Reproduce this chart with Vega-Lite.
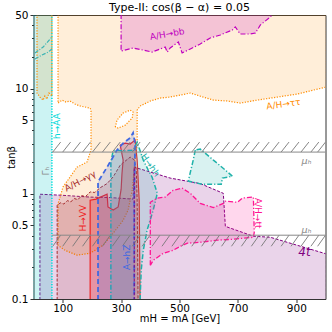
{
"$schema": "https://vega.github.io/schema/vega-lite/v6.json",
"width": 292, "height": 284,
"autosize": {"type": "none"},
"padding": {"left": 33.5, "top": 15, "right": 6.5, "bottom": 33},
"background": "white",
"config": {"view": {"stroke": "#333", "strokeWidth": 1}, "font": "DejaVu Sans",
  "axis": {"labelFont": "DejaVu Sans", "titleFont": "DejaVu Sans", "labelFontSize": 10.5, "titleFontSize": 10, "titleFontWeight": "normal", "labelColor": "#000", "titleColor": "#000", "tickColor": "#333", "domain": false, "grid": false}},
"datasets": {
 "p4t": [{"x":22,"y":0.098},{"x":22,"y":0.99},{"x":91,"y":0.97},{"x":194,"y":0.93},{"x":262,"y":0.92},{"x":341,"y":0.89},{"x":345,"y":1.79},{"x":468,"y":1.41},{"x":571,"y":1.25},{"x":650,"y":1.01},{"x":657,"y":0.49},{"x":753,"y":0.395},{"x":811,"y":0.386},{"x":1003,"y":0.268},{"x":1003,"y":0.098},{"x":22,"y":0.098}],
 "cyan": [{"x":-3,"y":0.098},{"x":-3,"y":51},{"x":63,"y":51},{"x":63,"y":0.098},{"x":-3,"y":0.098}],
 "oranA": [{"x":84,"y":51},{"x":84,"y":7.28},{"x":98,"y":7.77},{"x":111,"y":7.44},{"x":125,"y":7.61},{"x":142,"y":7.12},{"x":160,"y":6.82},{"x":194,"y":6.52},{"x":197,"y":6.24},{"x":197,"y":2.6},{"x":183,"y":2.0},{"x":149,"y":1.79},{"x":125,"y":1.44},{"x":101,"y":1.16},{"x":91,"y":0.93},{"x":84,"y":0.81},{"x":84,"y":0.324},{"x":108,"y":0.29},{"x":149,"y":0.261},{"x":194,"y":0.272},{"x":238,"y":0.324},{"x":273,"y":0.422},{"x":307,"y":0.56},{"x":324,"y":0.7},{"x":338,"y":1.08},{"x":348,"y":2.09},{"x":355,"y":2.9},{"x":355,"y":6.24},{"x":365,"y":6.82},{"x":400,"y":7.61},{"x":434,"y":8.12},{"x":468,"y":8.3},{"x":502,"y":8.67},{"x":537,"y":9.06},{"x":581,"y":8.3},{"x":616,"y":7.77},{"x":664,"y":7.61},{"x":708,"y":7.28},{"x":767,"y":7.77},{"x":835,"y":8.3},{"x":904,"y":8.87},{"x":959,"y":9.67},{"x":1003,"y":10.35},{"x":1003,"y":51},{"x":84,"y":51}],
 "oranB": [{"x":12,"y":51},{"x":12,"y":9.06},{"x":22,"y":8.3},{"x":33,"y":7.77},{"x":39,"y":8.49},{"x":46,"y":7.94},{"x":53,"y":9.06},{"x":63,"y":8.49},{"x":63,"y":51},{"x":12,"y":51}],
 "ellipse": [{"x":280,"y":4.3},{"x":286,"y":5.01},{"x":307,"y":5.85},{"x":331,"y":6.24},{"x":341,"y":5.98},{"x":338,"y":5.24},{"x":314,"y":4.49},{"x":290,"y":4.21},{"x":280,"y":4.3}],
 "bb": [{"x":300,"y":51},{"x":300,"y":22.7},{"x":341,"y":24.3},{"x":376,"y":23.2},{"x":406,"y":22.2},{"x":434,"y":23.8},{"x":451,"y":24.8},{"x":458,"y":22.2},{"x":468,"y":24.3},{"x":496,"y":27.7},{"x":509,"y":21.8},{"x":537,"y":23.8},{"x":571,"y":26.5},{"x":605,"y":30.2},{"x":640,"y":32.3},{"x":681,"y":36.0},{"x":691,"y":38.5},{"x":708,"y":33.0},{"x":743,"y":33.0},{"x":760,"y":33.7},{"x":777,"y":40.2},{"x":811,"y":47.9},{"x":820,"y":51},{"x":300,"y":51}],
 "gg": [{"x":81,"y":0.098},{"x":81,"y":0.78},{"x":92,"y":0.82},{"x":104,"y":0.8},{"x":116,"y":0.86},{"x":128,"y":0.84},{"x":140,"y":0.9},{"x":152,"y":0.88},{"x":165,"y":0.96},{"x":178,"y":0.94},{"x":194,"y":1.04},{"x":210,"y":1.03},{"x":228,"y":1.14},{"x":252,"y":1.25},{"x":273,"y":1.45},{"x":297,"y":1.87},{"x":331,"y":2.23},{"x":345,"y":2.1},{"x":352,"y":1.68},{"x":355,"y":0.87},{"x":358,"y":0.098},{"x":81,"y":0.098}],
 "vv": [{"x":194,"y":0.098},{"x":194,"y":0.87},{"x":214,"y":0.89},{"x":252,"y":0.99},{"x":255,"y":0.75},{"x":273,"y":0.7},{"x":290,"y":0.75},{"x":300,"y":1.1},{"x":303,"y":1.55},{"x":307,"y":2.09},{"x":297,"y":2.9},{"x":314,"y":3.03},{"x":331,"y":2.97},{"x":348,"y":3.24},{"x":355,"y":2.09},{"x":362,"y":0.87},{"x":365,"y":0.098},{"x":194,"y":0.098}],
 "hh": [{"x":265,"y":0.098},{"x":265,"y":2.0},{"x":272,"y":2.5},{"x":285,"y":2.6},{"x":307,"y":2.55},{"x":341,"y":2.6},{"x":355,"y":3.1},{"x":376,"y":2.09},{"x":393,"y":1.68},{"x":406,"y":1.44},{"x":424,"y":1.01},{"x":410,"y":0.7},{"x":389,"y":0.45},{"x":376,"y":0.29},{"x":369,"y":0.19},{"x":365,"y":0.098},{"x":265,"y":0.098}],
 "blob": [{"x":554,"y":2.6},{"x":547,"y":2.09},{"x":530,"y":1.32},{"x":578,"y":1.23},{"x":643,"y":1.23},{"x":647,"y":1.41},{"x":681,"y":1.47},{"x":657,"y":1.68},{"x":616,"y":2.09},{"x":571,"y":2.66},{"x":554,"y":2.6}],
 "hz": [{"x":221,"y":0.098},{"x":221,"y":1.3},{"x":252,"y":1.79},{"x":286,"y":2.6},{"x":307,"y":3.03},{"x":331,"y":3.4},{"x":341,"y":3.8},{"x":348,"y":3.0},{"x":345,"y":0.87},{"x":345,"y":0.098},{"x":221,"y":0.098}],
 "tt": [{"x":400,"y":0.209},{"x":400,"y":0.83},{"x":424,"y":0.91},{"x":451,"y":0.93},{"x":478,"y":1.08},{"x":509,"y":1.13},{"x":537,"y":1.01},{"x":571,"y":0.81},{"x":616,"y":0.74},{"x":650,"y":0.81},{"x":657,"y":0.85},{"x":698,"y":0.83},{"x":715,"y":0.91},{"x":753,"y":0.93},{"x":756,"y":0.43},{"x":753,"y":0.386},{"x":684,"y":0.37},{"x":629,"y":0.362},{"x":571,"y":0.346},{"x":527,"y":0.339},{"x":503,"y":0.317},{"x":478,"y":0.29},{"x":444,"y":0.272},{"x":410,"y":0.233},{"x":400,"y":0.209}],
 "arc1": [{"x":5,"y":21.8},{"x":33,"y":24.8},{"x":57,"y":29.6},{"x":63,"y":30.9}],
 "arc2": [{"x":5,"y":19.1},{"x":29,"y":20.8},{"x":50,"y":22.2},{"x":63,"y":23.8}],
 "pv": [{"x":345,"y":0.098},{"x":345,"y":1.79}],
 "hatch": [{"x":66,"x2":93},{"x":100,"x2":127},{"x":134,"x2":161},{"x":168,"x2":195},{"x":202,"x2":229},{"x":236,"x2":263},{"x":270,"x2":297},{"x":304,"x2":331},{"x":338,"x2":365},{"x":372,"x2":399},{"x":406,"x2":433},{"x":440,"x2":467},{"x":474,"x2":501},{"x":508,"x2":535},{"x":542,"x2":569},{"x":576,"x2":603},{"x":610,"x2":637},{"x":644,"x2":671},{"x":678,"x2":705},{"x":712,"x2":739},{"x":746,"x2":773},{"x":780,"x2":807},{"x":814,"x2":841},{"x":848,"x2":875},{"x":882,"x2":909},{"x":916,"x2":943},{"x":950,"x2":977},{"x":973,"x2":1000}],
 "muline": [{"x":63,"x2":1000}]
},
"layer": [
 {"data": {"name": "p4t"}, "mark": {"type": "line", "fill": "#800080", "fillOpacity": 0.17, "stroke": "#800080", "strokeWidth": 1, "strokeDash": [3, 1.6], "clip": true},
  "encoding": {"order": {"value": null},
   "x": {"field": "x", "type": "quantitative", "scale": {"domain": [0, 1000], "nice": false, "zero": false},
     "axis": {"values": [100, 300, 500, 700, 900], "title": "mH = mA [GeV]", "tickSize": 3.5, "labelPadding": 0.5, "titlePadding": 0}},
   "y": {"field": "y", "type": "quantitative", "scale": {"type": "log", "domain": [0.1, 50], "nice": false},
     "axis": {"values": [0.1,0.2,0.3,0.4,0.5,0.6,0.7,0.8,0.9,1,2,3,4,5,6,7,8,9,10,20,30,40,50], "format": "~g",
       "labelExpr": "indexof([0.1,0.5,1,5,10,50], datum.value) >= 0 ? datum.label : ''",
       "tickSize": {"condition": {"test": "indexof([0.1,0.5,1,5,10,50], datum.value) >= 0", "value": 3.5}, "value": 2},
       "title": "tanβ", "labelPadding": 2, "titleX": -17, "titleY": 142, "titleAngle": 270, "titleBaseline": "bottom", "titleAlign": "center"}}}},
 {"data": {"name": "cyan"}, "mark": {"type": "line", "fill": "#00c4c4", "fillOpacity": 0.2, "stroke": "#00dede", "strokeWidth": 1.6, "strokeDash": [1.2, 1.5], "clip": true}, "encoding": {"order": {"value": null}, "x": {"field": "x", "type": "quantitative"}, "y": {"field": "y", "type": "quantitative"}}},
 {"data": {"name": "oranA"}, "mark": {"type": "line", "fill": "#ff8c00", "fillOpacity": 0.15, "stroke": "#ff8c00", "strokeWidth": 1.2, "strokeDash": [1.2, 1.5], "clip": true}, "encoding": {"order": {"value": null}, "x": {"field": "x", "type": "quantitative"}, "y": {"field": "y", "type": "quantitative"}}},
 {"data": {"name": "oranB"}, "mark": {"type": "line", "fill": "#ff8c00", "fillOpacity": 0.15, "stroke": "#ff8c00", "strokeWidth": 1.2, "strokeDash": [1.2, 1.5], "clip": true}, "encoding": {"order": {"value": null}, "x": {"field": "x", "type": "quantitative"}, "y": {"field": "y", "type": "quantitative"}}},
 {"data": {"name": "ellipse"}, "mark": {"type": "line", "fill": "#ffffff", "fillOpacity": 1, "stroke": "#ff8c00", "strokeWidth": 1.2, "strokeDash": [1.2, 1.5], "clip": true}, "encoding": {"order": {"value": null}, "x": {"field": "x", "type": "quantitative"}, "y": {"field": "y", "type": "quantitative"}}},
 {"data": {"name": "gg"}, "mark": {"type": "line", "fill": "#a52a2a", "fillOpacity": 0.15, "stroke": "#a52a2a", "strokeWidth": 1, "strokeDash": [3, 1.6], "clip": true}, "encoding": {"order": {"value": null}, "x": {"field": "x", "type": "quantitative"}, "y": {"field": "y", "type": "quantitative"}}},
 {"data": {"name": "vv"}, "mark": {"type": "line", "fill": "#ff0000", "fillOpacity": 0.2, "stroke": "#ee2222", "strokeWidth": 1.2, "clip": true}, "encoding": {"order": {"value": null}, "x": {"field": "x", "type": "quantitative"}, "y": {"field": "y", "type": "quantitative"}}},
 {"data": {"name": "hh"}, "mark": {"type": "line", "fill": "#20b2aa", "fillOpacity": 0.17, "stroke": "#20b2aa", "strokeWidth": 1.5, "strokeDash": [5, 2, 1.2, 2], "clip": true}, "encoding": {"order": {"value": null}, "x": {"field": "x", "type": "quantitative"}, "y": {"field": "y", "type": "quantitative"}}},
 {"data": {"name": "blob"}, "mark": {"type": "line", "fill": "#20b2aa", "fillOpacity": 0.17, "stroke": "#20b2aa", "strokeWidth": 1.5, "strokeDash": [5, 2, 1.2, 2], "clip": true}, "encoding": {"order": {"value": null}, "x": {"field": "x", "type": "quantitative"}, "y": {"field": "y", "type": "quantitative"}}},
 {"data": {"name": "hz"}, "mark": {"type": "line", "fill": "#4169e1", "fillOpacity": 0.2, "stroke": "#4169e1", "strokeWidth": 1.8, "strokeDash": [5, 3], "clip": true}, "encoding": {"order": {"value": null}, "x": {"field": "x", "type": "quantitative"}, "y": {"field": "y", "type": "quantitative"}}},
 {"data": {"name": "tt"}, "mark": {"type": "line", "fill": "#ff1493", "fillOpacity": 0.17, "stroke": "#ff1493", "strokeWidth": 1.3, "strokeDash": [5, 2, 1.2, 2], "clip": true}, "encoding": {"order": {"value": null}, "x": {"field": "x", "type": "quantitative"}, "y": {"field": "y", "type": "quantitative"}}},
 {"data": {"name": "bb"}, "mark": {"type": "line", "fill": "#c000c0", "fillOpacity": 0.18, "stroke": "#c000c0", "strokeWidth": 1.2, "strokeDash": [5, 2, 1.2, 2], "clip": true}, "encoding": {"order": {"value": null}, "x": {"field": "x", "type": "quantitative"}, "y": {"field": "y", "type": "quantitative"}}},
 {"data": {"name": "pv"}, "mark": {"type": "line", "stroke": "#800080", "strokeWidth": 1, "strokeDash": [3, 1.6], "clip": true}, "encoding": {"order": {"value": null}, "x": {"field": "x", "type": "quantitative"}, "y": {"field": "y", "type": "quantitative"}}},
 {"data": {"name": "arc1"}, "mark": {"type": "line", "stroke": "#3cb4b4", "strokeWidth": 1.2, "strokeDash": [4, 1.5, 1, 1.5], "clip": true}, "encoding": {"order": {"value": null}, "x": {"field": "x", "type": "quantitative"}, "y": {"field": "y", "type": "quantitative"}}},
 {"data": {"name": "arc2"}, "mark": {"type": "line", "stroke": "#3cb4b4", "strokeWidth": 1.2, "strokeDash": [4, 1.5, 1, 1.5], "clip": true}, "encoding": {"order": {"value": null}, "x": {"field": "x", "type": "quantitative"}, "y": {"field": "y", "type": "quantitative"}}},
 {"data": {"name": "hatch"}, "mark": {"type": "rule", "stroke": "#777", "strokeWidth": 0.9, "clip": true}, "encoding": {"x": {"field": "x", "type": "quantitative"}, "x2": {"field": "x2"}, "y": {"datum": 2.49, "type": "quantitative"}, "y2": {"datum": 3.1}}},
 {"data": {"name": "hatch"}, "mark": {"type": "rule", "stroke": "#777", "strokeWidth": 0.9, "clip": true}, "encoding": {"x": {"field": "x", "type": "quantitative"}, "x2": {"field": "x2"}, "y": {"datum": 0.317, "type": "quantitative"}, "y2": {"datum": 0.404}}},
 {"data": {"name": "muline"}, "mark": {"type": "rule", "stroke": "#888", "strokeWidth": 1, "clip": true}, "encoding": {"x": {"field": "x", "type": "quantitative"}, "x2": {"field": "x2"}, "y": {"datum": 2.49, "type": "quantitative"}}},
 {"data": {"name": "muline"}, "mark": {"type": "rule", "stroke": "#888", "strokeWidth": 1, "clip": true}, "encoding": {"x": {"field": "x", "type": "quantitative"}, "x2": {"field": "x2"}, "y": {"datum": 0.404, "type": "quantitative"}}},
 {"data": {"values": [{"x": 458, "y": 33, "t": "A/H→bb"}]}, "mark": {"type": "text", "color": "#c000c0", "fontSize": 9, "angle": 350}, "encoding": {"x": {"field": "x", "type": "quantitative"}, "y": {"field": "y", "type": "quantitative"}, "text": {"field": "t"}}},
 {"data": {"values": [{"x": 856, "y": 7.12, "t": "A/H→ττ"}]}, "mark": {"type": "text", "color": "#ff8c00", "fontSize": 9, "angle": 352}, "encoding": {"x": {"field": "x", "type": "quantitative"}, "y": {"field": "y", "type": "quantitative"}, "text": {"field": "t"}}},
 {"data": {"values": [{"x": 160, "y": 1.32, "t": "A/H→γγ"}]}, "mark": {"type": "text", "color": "#a52a2a", "fontSize": 9, "angle": 332}, "encoding": {"x": {"field": "x", "type": "quantitative"}, "y": {"field": "y", "type": "quantitative"}, "text": {"field": "t"}}},
 {"data": {"values": [{"x": 171, "y": 0.586, "t": "H→VV"}]}, "mark": {"type": "text", "color": "#ee2222", "fontSize": 9, "angle": 270}, "encoding": {"x": {"field": "x", "type": "quantitative"}, "y": {"field": "y", "type": "quantitative"}, "text": {"field": "t"}}},
 {"data": {"values": [{"x": 321, "y": 0.249, "t": "A→hZ"}]}, "mark": {"type": "text", "color": "#4169e1", "fontSize": 9, "angle": 270}, "encoding": {"x": {"field": "x", "type": "quantitative"}, "y": {"field": "y", "type": "quantitative"}, "text": {"field": "t"}}},
 {"data": {"values": [{"x": 400, "y": 1.87, "t": "H→hh"}]}, "mark": {"type": "text", "color": "#20b2aa", "fontSize": 9, "angle": 55}, "encoding": {"x": {"field": "x", "type": "quantitative"}, "y": {"field": "y", "type": "quantitative"}, "text": {"field": "t"}}},
 {"data": {"values": [{"x": 82, "y": 4.4, "t": "h→AA"}]}, "mark": {"type": "text", "color": "#00d8d8", "fontSize": 9, "angle": 270}, "encoding": {"x": {"field": "x", "type": "quantitative"}, "y": {"field": "y", "type": "quantitative"}, "text": {"field": "t"}}},
 {"data": {"values": [{"x": 43, "y": 1.64, "t": "Γₕ"}]}, "mark": {"type": "text", "color": "#888", "fontSize": 9, "angle": 270}, "encoding": {"x": {"field": "x", "type": "quantitative"}, "y": {"field": "y", "type": "quantitative"}, "text": {"field": "t"}}},
 {"data": {"values": [{"x": 770, "y": 0.654, "t": "A/H→tt"}]}, "mark": {"type": "text", "color": "#ff1493", "fontSize": 9, "angle": 90}, "encoding": {"x": {"field": "x", "type": "quantitative"}, "y": {"field": "y", "type": "quantitative"}, "text": {"field": "t"}}},
 {"data": {"values": [{"x": 928, "y": 0.278, "t": "4t"}]}, "mark": {"type": "text", "color": "#800080", "fontSize": 12, "fontStyle": "italic"}, "encoding": {"x": {"field": "x", "type": "quantitative"}, "y": {"field": "y", "type": "quantitative"}, "text": {"field": "t"}}},
 {"data": {"values": [{"x": 935, "y": 2.04, "t": "μₕ"}, {"x": 935, "y": 0.455, "t": "μₕ"}]}, "mark": {"type": "text", "color": "#888", "fontSize": 9.5, "fontStyle": "italic"}, "encoding": {"x": {"field": "x", "type": "quantitative"}, "y": {"field": "y", "type": "quantitative"}, "text": {"field": "t"}}},
 {"data": {"values": [{"x": 500, "y": 54, "t": "Type-II: cos(β − α) = 0.05"}]}, "mark": {"type": "text", "color": "#000", "fontSize": 11, "baseline": "alphabetic", "align": "center", "font": "DejaVu Sans"}, "encoding": {"x": {"field": "x", "type": "quantitative"}, "y": {"field": "y", "type": "quantitative"}, "text": {"field": "t"}}}
]
}
